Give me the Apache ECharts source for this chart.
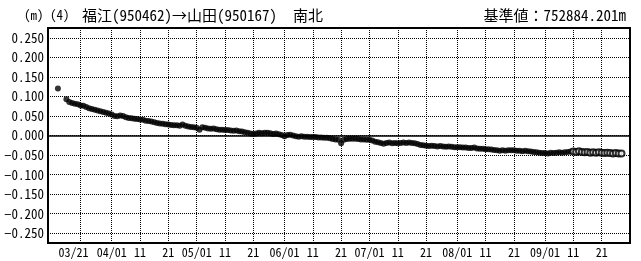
<!DOCTYPE html>
<html>
<head>
<meta charset="utf-8">
<script src="https://cdn.jsdelivr.net/npm/echarts@6/dist/echarts.min.js"></script>
<style>
  html, body { margin: 0; padding: 0; background: #fff; }
  #chart { width: 641px; height: 261px; }
</style>
</head>
<body>
<div id="chart"></div>
<script>
  // 日変位（南北成分, m）
  const YEAR = 2021
  const marDays = [13, 16, 17, 18, 19, 20, 21, 22, 23, 24, 25, 26, 27, 28, 29, 30, 31]
  const marValues = [0.120, 0.093, 0.086, 0.083, 0.081, 0.080, 0.077, 0.076, 0.073, 0.070, 0.068, 0.066, 0.064, 0.062, 0.060, 0.058, 0.056]
  const aprValues = [0.054, 0.050, 0.049, 0.051, 0.050, 0.047, 0.045, 0.044, 0.043, 0.042, 0.041, 0.040, 0.038, 0.037, 0.036,
    0.034, 0.032, 0.031, 0.030, 0.029, 0.028, 0.027, 0.026, 0.026, 0.025, 0.028, 0.025, 0.023, 0.022, 0.021]
  const mayValues = [0.020, 0.015, 0.021, 0.020, 0.018, 0.017, 0.018, 0.016, 0.015, 0.015, 0.014, 0.014, 0.013, 0.012, 0.013,
    0.011, 0.010, 0.008, 0.007, 0.005, 0.004, 0.005, 0.007, 0.006, 0.007, 0.007, 0.006, 0.004, 0.005, 0.003, 0.001]
  const junValues = [-0.002, 0.001, 0.002, 0.000, -0.002, -0.003, -0.002, -0.003, -0.003, -0.004, -0.004, -0.004, -0.005, -0.005, -0.006,
    -0.006, -0.007, -0.009, -0.010, -0.011, -0.020, -0.011, -0.009, -0.008, -0.008, -0.008, -0.009, -0.010, -0.010, -0.011]
  const julValues = [-0.011, -0.013, -0.016, -0.017, -0.019, -0.021, -0.019, -0.018, -0.020, -0.019, -0.020, -0.019, -0.018, -0.019, -0.018,
    -0.019, -0.020, -0.022, -0.024, -0.025, -0.026, -0.027, -0.026, -0.027, -0.028, -0.027, -0.028, -0.029, -0.028, -0.029, -0.030]
  const augValues = [-0.030, -0.030, -0.031, -0.031, -0.032, -0.032, -0.031, -0.033, -0.034, -0.034, -0.035, -0.035, -0.036, -0.037, -0.038,
    -0.039, -0.038, -0.039, -0.038, -0.038, -0.038, -0.039, -0.039, -0.040, -0.039, -0.040, -0.041, -0.042, -0.043, -0.044, -0.045]
  const sepValues = [-0.045, -0.046, -0.044, -0.045, -0.044, -0.043, -0.044, -0.043, -0.042, -0.041]
  // 速報解（白丸）
  const sepRapidValues = [-0.041, -0.042, -0.040, -0.042, -0.043, -0.042, -0.044, -0.043, -0.044, -0.043, -0.044, -0.045, -0.044, -0.045,
    -0.046, -0.045, -0.046, -0.046]

  const yTicks = [-0.25, -0.2, -0.15, -0.1, -0.05, 0, 0.05, 0.1, 0.15, 0.2, 0.25]
  const xTickDates = [[3, 21], [4, 1], [4, 11], [4, 21], [5, 1], [5, 11], [5, 21], [6, 1], [6, 11], [6, 21],
    [7, 1], [7, 11], [7, 21], [8, 1], [8, 11], [8, 21], [9, 1], [9, 11], [9, 21]]

  const ts = (m, d, h = 0) => new Date(YEAR, m - 1, d, h).getTime()
  const monthPoints = (m, startDay, values) => values.map((v, i) => [ts(m, startDay + i), v])

  const filledData = [
    ...marDays.map((d, i) => [ts(3, d), marValues[i]]),
    ...monthPoints(4, 1, aprValues),
    ...monthPoints(5, 1, mayValues),
    ...monthPoints(6, 1, junValues),
    ...monthPoints(7, 1, julValues),
    ...monthPoints(8, 1, augValues),
    ...monthPoints(9, 1, sepValues)
  ]
  const rapidData = monthPoints(9, 11, sepRapidValues)
  const xTicks = xTickDates.map(([m, d]) => ts(m, d))

  const pad = n => String(n).padStart(2, '0')
  const fontFamily = '"Noto Sans Mono CJK JP", "Noto Sans CJK JP", "DejaVu Sans Mono", monospace'
  const titleStyle = { fontSize: 15, fontWeight: 'normal', color: '#000', fontFamily }
  const smallTitleStyle = { ...titleStyle, fontSize: 13 }
  const gridLine = { color: '#000', type: [1, 1], width: 1 }

  const chart = echarts.init(document.getElementById('chart'))
  chart.setOption({
    animation: false,
    title: [
      { text: '(m)', left: 24, top: 9, padding: 0, textStyle: smallTitleStyle },
      { text: '(4)', left: 50, top: 9, padding: 0, textStyle: smallTitleStyle },
      { text: '福江(950462)→山田(950167)', left: 82, top: 8, padding: 0, textStyle: titleStyle },
      { text: '南北', left: 293, top: 8, padding: 0, textStyle: titleStyle },
      { text: '基準値：752884.201m', right: 15, top: 8, padding: 0, textStyle: titleStyle }
    ],
    grid: {
      left: 48,
      right: 11,
      top: 28,
      bottom: 18,
      show: true,
      borderColor: '#000',
      borderWidth: 2
    },
    xAxis: {
      type: 'value',
      min: ts(3, 9, 12),
      max: ts(10, 1),
      axisLine: { show: true, onZero: false, lineStyle: { color: '#000', width: 2 } },
      axisTick: { show: false, customValues: xTicks },
      axisLabel: {
        customValues: xTicks,
        margin: 3,
        fontSize: 12,
        color: '#000',
        fontFamily,
        hideOverlap: false,
        formatter: value => {
          const d = new Date(value)
          const day = d.getDate()
          if (day === 1) return pad(d.getMonth() + 1) + '/01'
          if (d.getMonth() === 2) return '{first|' + pad(d.getMonth() + 1) + '/' + pad(day) + '}'
          return String(day)
        },
        rich: {
          first: { fontSize: 12, color: '#000', fontFamily, padding: [0, 14, 0, 0] }
        }
      },
      splitLine: { show: true, lineStyle: gridLine }
    },
    yAxis: {
      type: 'value',
      min: -0.275,
      max: 0.275,
      axisLine: { show: true, onZero: false, lineStyle: { color: '#000', width: 2 } },
      axisTick: { show: false, customValues: yTicks },
      axisLabel: {
        customValues: yTicks,
        margin: 4,
        fontSize: 13,
        color: '#000',
        fontFamily,
        formatter: v => v.toFixed(3).replace('-', '−')
      },
      splitLine: { show: true, lineStyle: gridLine }
    },
    series: [
      {
        type: 'scatter',
        data: filledData,
        symbol: 'circle',
        symbolSize: 6,
        itemStyle: { color: '#000' },
        markLine: {
          silent: true,
          symbol: 'none',
          label: { show: false },
          lineStyle: { color: '#000', type: 'solid', width: 1.5 },
          data: [{ yAxis: 0 }]
        }
      },
      {
        type: 'scatter',
        data: rapidData,
        symbol: 'emptyCircle',
        symbolSize: 6,
        itemStyle: { color: '#000', borderWidth: 1 }
      }
    ]
  })
</script>
</body>
</html>
